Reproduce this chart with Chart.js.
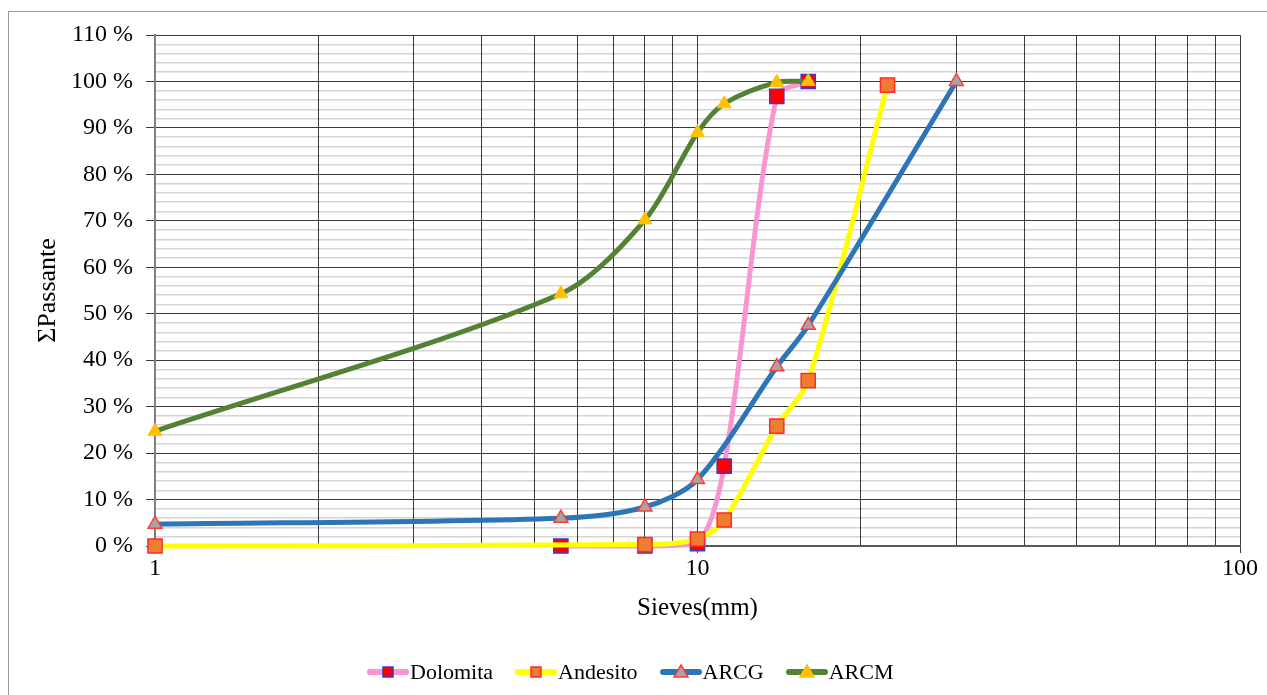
<!DOCTYPE html>
<html>
<head>
<meta charset="utf-8">
<script src="https://cdn.jsdelivr.net/npm/chart.js@4/dist/chart.umd.min.js"></script>
<style>
  body { margin: 0; background: #fff; }
  #wrap { position: relative; width: 1267px; height: 695px; overflow: hidden; }
  #frame { position: absolute; left: 8px; top: 11px; width: 1300px; height: 700px;
           border-left: 1px solid #9a9a9a; border-top: 1px solid #9a9a9a; }
  #chart { position: absolute; left: 0; top: 0; }
  #legend { position: absolute; left: 367px; top: 659px; display: flex; align-items: center;
            font-family: 'Liberation Serif', 'Times New Roman', serif; font-size: 22px; color: #000; }
  #legend .item { display: flex; align-items: center; margin-right: 22px; }
  #legend canvas { margin-right: 1px; }
</style>
</head>
<body>
<div id="wrap">
  <div id="frame"></div>
  <canvas id="chart" width="1267" height="695"></canvas>
  <div id="legend"></div>
</div>
<script>
// sieve sizes (mm) and cumulative passing (%)
const dolomitaX = [5.6, 8, 10, 11.2, 14, 16];
const dolomitaY = [0, 0, 0.5, 17.2, 96.8, 100];
const andesitoX = [1, 8, 10, 11.2, 14, 16, 22.4];
const andesitoY = [0, 0.3, 1.5, 5.6, 25.8, 35.6, 99.2];
const arcgX = [1, 5.6, 8, 10, 14, 16, 30];
const arcgY = [4.7, 6.0, 8.4, 14.3, 38.6, 47.5, 100];
const arcmX = [1, 5.6, 8, 10, 11.2, 14, 16];
const arcmY = [24.7, 54.3, 70.2, 89.0, 95.2, 99.8, 100];

const seriesNames = ['Dolomita', 'Andesito', 'ARCG', 'ARCM'];
const xTicks = [1, 2, 3, 4, 5, 6, 7, 8, 9, 10, 20, 30, 40, 50, 60, 70, 80, 90, 100];
const xLabels = [1, 10, 100];
const yMax = 110;
const yStep = 2;

const FONT = "'Liberation Serif', 'Times New Roman', serif";
const DARK = '#3c3c3c';

function pts(xs, ys) {
  return xs.map((x, i) => ({ x: x, y: ys[i] }));
}

const styles = [
  { line: '#f896d2', fill: '#ff0000', border: '#3a3acc', shape: 'rect', r: 10, bw: 1.5 },
  { line: '#ffff00', fill: '#ed7d31', border: '#ff2a2a', shape: 'rect', r: 10, bw: 1.5 },
  { line: '#2e75b6', fill: '#a5a5a5', border: '#ff3b3b', shape: 'triangle', r: 8, bw: 1.5 },
  { line: '#548235', fill: '#ffc000', border: '#ffc000', shape: 'triangle', r: 8, bw: 1 }
];
const seriesData = [pts(dolomitaX, dolomitaY), pts(andesitoX, andesitoY), pts(arcgX, arcgY), pts(arcmX, arcmY)];

const datasets = seriesNames.map((name, i) => ({
  label: name,
  data: seriesData[i],
  borderColor: styles[i].line,
  borderWidth: 5,
  tension: 0.3,
  pointStyle: styles[i].shape,
  pointRadius: styles[i].r,
  pointBackgroundColor: styles[i].fill,
  pointBorderColor: styles[i].border,
  pointBorderWidth: styles[i].bw,
  order: seriesNames.length - i,
  clip: false
}));

const yTickValues = [];
for (let v = 0; v <= yMax; v += yStep) yTickValues.push(v);

new Chart(document.getElementById('chart'), {
  type: 'line',
  data: { datasets: datasets },
  options: {
    responsive: false,
    animation: false,
    layout: { padding: { left: 0, top: 35, right: 27, bottom: 0 } },
    plugins: { legend: { display: false }, tooltip: { enabled: false } },
    scales: {
      x: {
        type: 'logarithmic',
        min: 1,
        max: 100,
        afterBuildTicks: s => { s.ticks = xTicks.map(v => ({ value: v })); },
        afterFit: s => { s.height = 149; },
        ticks: {
          autoSkip: false,
          maxRotation: 0,
          padding: 1,
          color: '#000',
          font: { family: FONT, size: 24 },
          callback: v => xLabels.includes(v) ? String(v) : ''
        },
        grid: {
          color: DARK,
          lineWidth: 1,
          tickLength: 7,
          tickColor: c => xLabels.includes(c.tick && c.tick.value) ? DARK : 'rgba(0,0,0,0)'
        },
        border: { color: '#595959', width: 2 },
        title: {
          display: true,
          text: 'Sieves(mm)',
          color: '#000',
          font: { family: FONT, size: 25 },
          padding: { top: 0, bottom: 72 }
        }
      },
      y: {
        min: 0,
        max: yMax,
        afterBuildTicks: s => { s.ticks = yTickValues.map(v => ({ value: v })); },
        afterFit: s => { s.width = 155; },
        ticks: {
          autoSkip: false,
          padding: 13,
          color: '#000',
          font: { family: FONT, size: 24 },
          callback: v => v % 10 === 0 ? v + ' %' : ''
        },
        grid: {
          color: c => c.tick.value % 10 === 0 ? DARK : 'rgba(0,0,0,0.17)',
          lineWidth: c => c.tick.value % 10 === 0 ? 1 : 1.5,
          tickLength: 9,
          tickColor: c => c.tick.value % 10 === 0 ? DARK : 'rgba(0,0,0,0)'
        },
        border: { color: '#7f7f7f', width: 2 },
        title: {
          display: true,
          text: 'ΣPassante',
          color: '#000',
          font: { family: FONT, size: 26 },
          padding: { top: 33, bottom: 0 }
        }
      }
    }
  }
});

// legend: line swatch with marker, then name
const legend = document.getElementById('legend');
seriesNames.forEach((name, i) => {
  const st = styles[i];
  const item = document.createElement('div');
  item.className = 'item';
  const c = document.createElement('canvas');
  c.width = 42; c.height = 20;
  const g = c.getContext('2d');
  g.strokeStyle = st.line; g.lineWidth = 6; g.lineCap = 'round';
  g.beginPath(); g.moveTo(3, 10); g.lineTo(39, 10); g.stroke();
  g.fillStyle = st.fill; g.strokeStyle = st.border; g.lineWidth = 1.5;
  g.beginPath();
  if (st.shape === 'rect') {
    g.rect(16, 5, 10, 10);
  } else {
    g.moveTo(21, 3); g.lineTo(28, 15); g.lineTo(14, 15); g.closePath();
  }
  g.fill(); g.stroke();
  const span = document.createElement('span');
  span.textContent = name;
  item.appendChild(c);
  item.appendChild(span);
  legend.appendChild(item);
});
</script>
</body>
</html>
